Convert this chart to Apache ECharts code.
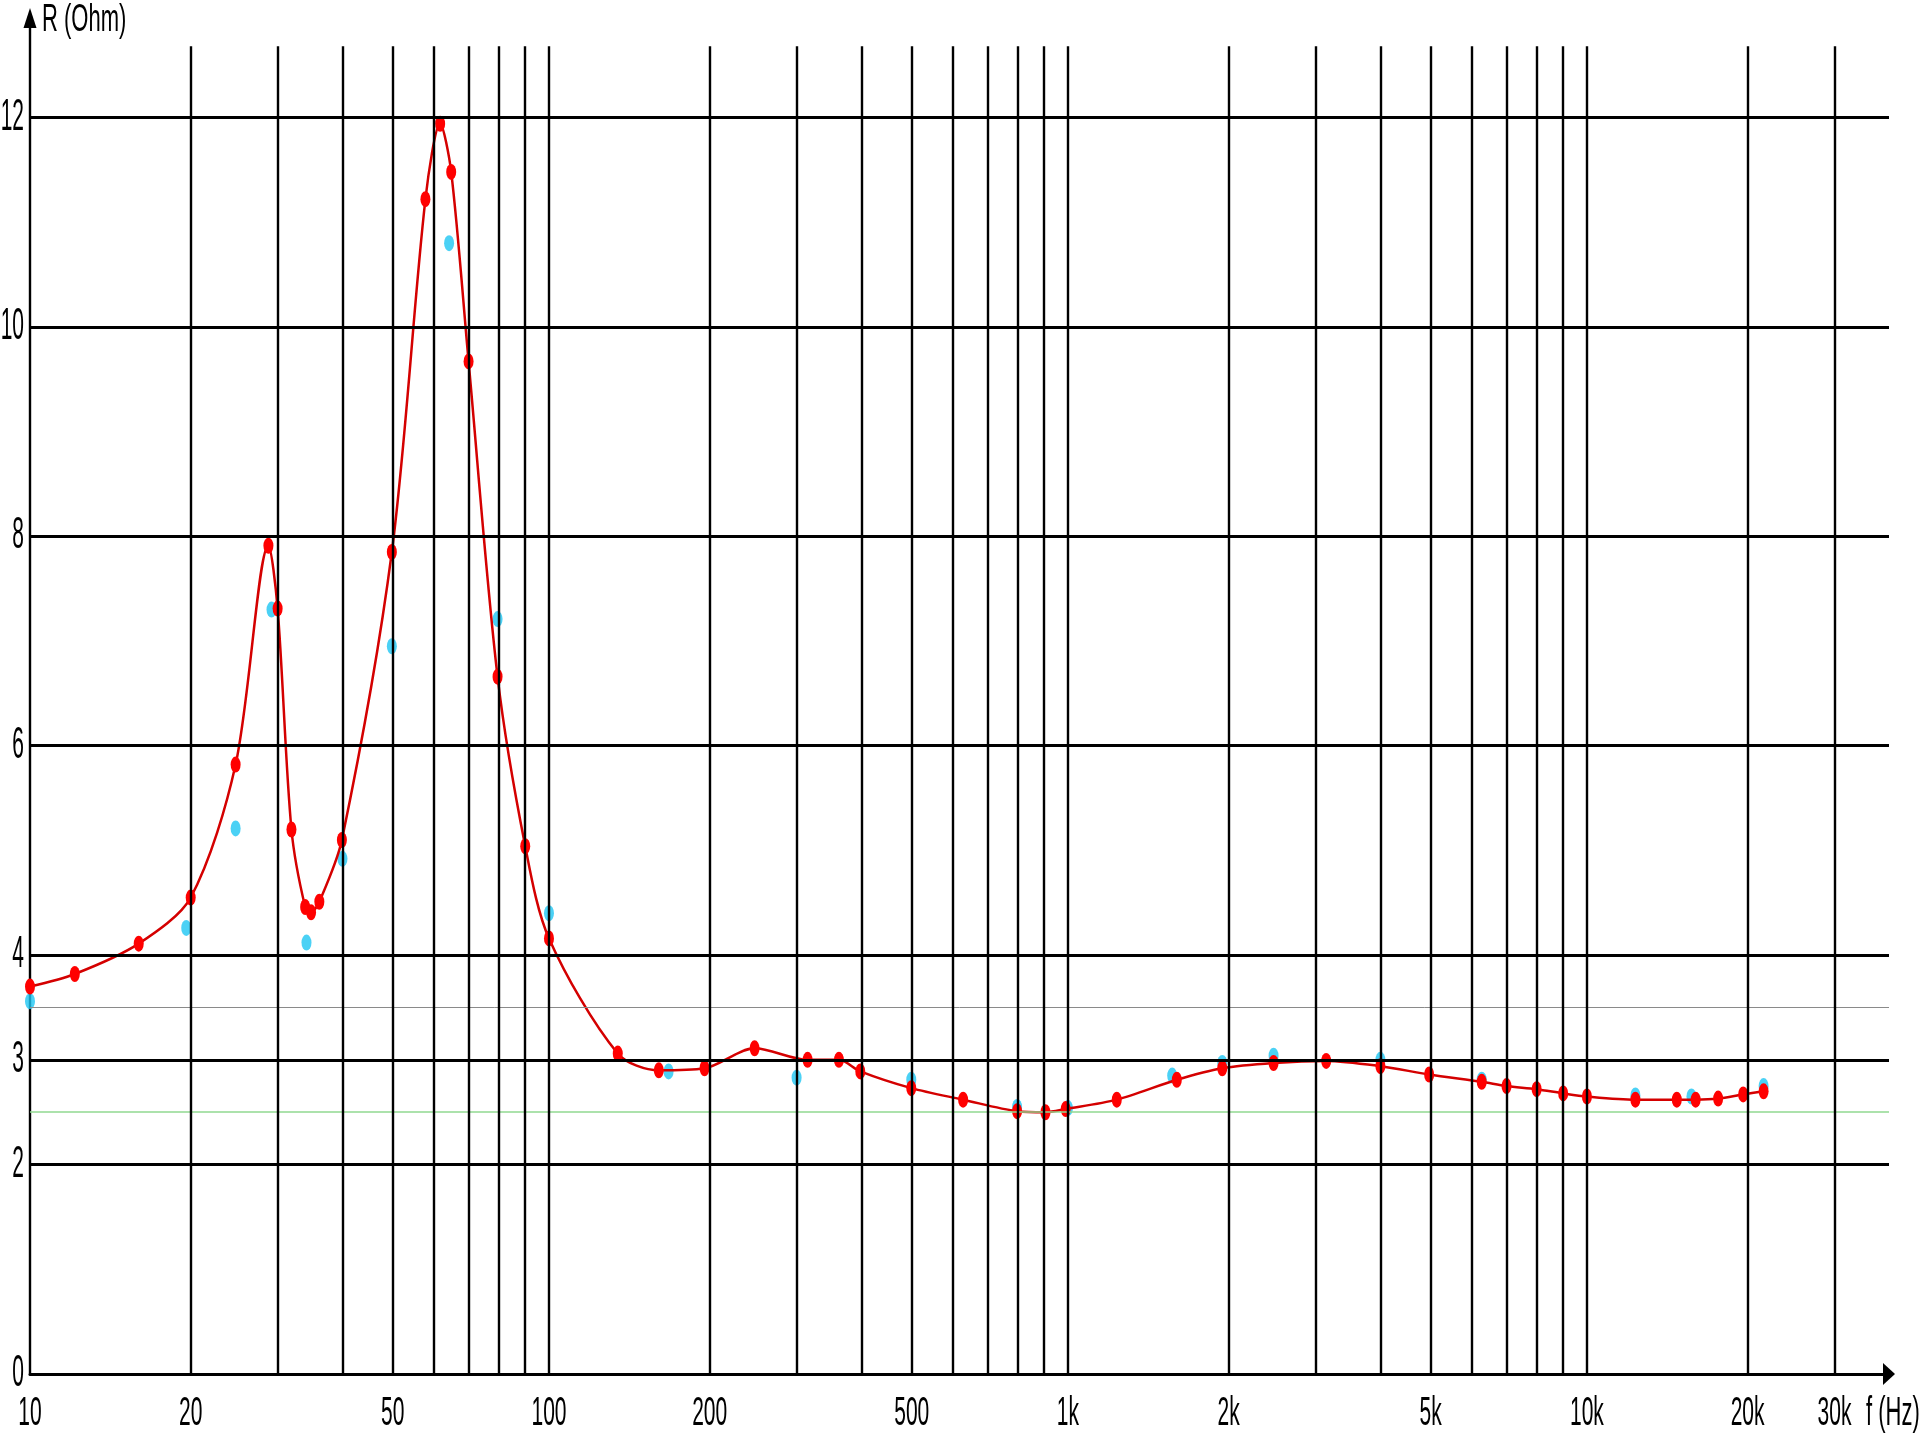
<!DOCTYPE html>
<html>
<head>
<meta charset="utf-8">
<script src="https://cdn.jsdelivr.net/npm/echarts@6/dist/echarts.min.js"></script>
<style>
html,body{margin:0;padding:0;background:#ffffff;}
#chart{width:1920px;height:1439px;}
</style>
</head>
<body>
<div id="chart"></div>
<script>
// ---- data ----
const redFreq = [10, 12.2, 16.2, 20.4, 24.9, 28.8, 30.0, 31.9, 33.9, 34.8, 36.1, 39.9, 49.8, 57.8, 61.7, 64.8, 70, 79.6, 90, 100,
                 135.7, 162.8, 199.4, 249, 315, 362, 398, 499, 628, 798, 905, 990, 1242, 1621, 1983, 2490, 3145, 4000, 4966,
                 6270, 7000, 8000, 9000, 10000, 12400, 14900, 16200, 17900, 20000, 21900];
const redR    = [3.70, 3.82, 4.11, 4.55, 5.82, 7.91, 7.31, 5.20, 4.46, 4.41, 4.51, 5.10, 7.85, 11.22, 11.94, 11.48, 9.67, 6.66, 5.04, 4.16,
                 3.06, 2.90, 2.92, 3.11, 3.00, 3.00, 2.89, 2.73, 2.62, 2.51, 2.50, 2.53, 2.62, 2.81, 2.92, 2.97, 2.99, 2.94, 2.86,
                 2.79, 2.75, 2.72, 2.68, 2.65, 2.62, 2.62, 2.62, 2.63, 2.67, 2.70];
const cyanFreq = [10, 20.0, 24.9, 29.2, 34.1, 40, 49.8, 64.2, 79.6, 100, 170, 300, 499, 798, 1000, 1588, 1983, 2490, 4000, 6270, 12400, 15900, 21900];
const cyanR    = [3.56, 4.26, 5.21, 7.30, 4.12, 4.92, 6.95, 10.80, 7.21, 4.40, 2.89, 2.83, 2.81, 2.55, 2.54, 2.85, 2.97, 3.04, 3.00, 2.81, 2.66, 2.65, 2.75];

const xGridFreq = [20.4, 30, 40, 50, 60, 70, 80, 90, 100, 204, 300, 400, 500, 600, 700, 800, 900, 1000,
                   2040, 3000, 4000, 5000, 6000, 7000, 8000, 9000, 10000, 20400, 30000];
const xTickVals  = [10, 20.4, 50, 100, 204, 500, 1000, 2040, 5000, 10000, 20400, 30000];
const xTickText  = ['10', '20', '50', '100', '200', '500', '1k', '2k', '5k', '10k', '20k', '30k'];
const yTickVals  = [0, 2, 3, 4, 6, 8, 10, 12];
const yMajorLines = [2, 3, 4, 6, 8, 10, 12];
const yGrayLines  = [3.5];
const yGreenLines = [2.5];
const vLineTop = 12.68;

const FONT = '"Liberation Sans", Arial, Helvetica, sans-serif';

const chart = echarts.init(document.getElementById('chart'));

const hLines = []
  .concat(yMajorLines.map(v => ({ yAxis: v, lineStyle: { color: '#000000', width: 3, type: 'solid' } })))
  .concat(yGrayLines.map(v => ({ yAxis: v, lineStyle: { color: '#8a8a8a', width: 1, type: 'solid' } })))
  .concat(yGreenLines.map(v => ({ yAxis: v, lineStyle: { color: '#90d890', width: 1.5, type: 'solid' } })));
const vLines = xGridFreq.map(f => [
  { coord: [f, 0], lineStyle: { color: '#000000', width: 2.4, type: 'solid' } },
  { coord: [f, vLineTop] }
]);

const option = {
  animation: false,
  backgroundColor: '#ffffff',
  grid: { left: 30, right: 31, top: 18, bottom: 65 },
  xAxis: {
    type: 'log', logBase: 10, min: 10, max: 38200,
    axisLine: { show: true, lineStyle: { color: '#000000', width: 3 }, symbol: ['none', 'triangle'], symbolSize: [22, 12] },
    axisTick: { show: false }, axisLabel: { show: false },
    splitLine: { show: false }, minorTick: { show: false }, minorSplitLine: { show: false }
  },
  yAxis: {
    type: 'value', min: 0, max: 12.95,
    axisLine: { show: true, lineStyle: { color: '#000000', width: 2.4 }, symbol: ['none', 'triangle'], symbolSize: [13, 20] },
    axisTick: { show: false }, axisLabel: { show: false }, splitLine: { show: false }
  },
  graphic: [
    { type: 'text', x: 42, y: 20, scaleY: 1.75, silent: true,
      style: { text: 'R (Ohm)', font: '22px ' + FONT, fill: '#000000', align: 'left', verticalAlign: 'middle' } },
    { type: 'text', x: 1866, y: 1414, scaleY: 1.85, silent: true,
      style: { text: 'f (Hz)', font: '22px ' + FONT, fill: '#000000', align: 'left', verticalAlign: 'middle' } }
  ],
  series: [
    {
      type: 'line', name: 'grid', z: 1, silent: true,
      data: [[10, 0]], symbol: 'none', lineStyle: { opacity: 0 },
      markLine: {
        silent: true, animation: false, symbol: ['none', 'none'],
        label: { show: false }, emphasis: { disabled: true },
        data: hLines.concat(vLines)
      }
    },
    {
      type: 'scatter', name: 'cyan', z: 3,
      data: cyanFreq.map((f, i) => [f, cyanR[i]]),
      symbol: 'circle', symbolSize: [10, 16],
      itemStyle: { color: '#1ec6f2' }
    },
    {
      type: 'line', name: 'red', z: 4,
      data: redFreq.map((f, i) => [f, redR[i]]),
      smooth: 0.3, showSymbol: true, showAllSymbol: true,
      symbol: 'circle', symbolSize: [10, 16],
      itemStyle: { color: '#ff0000' },
      lineStyle: { color: '#d40000', width: 2.5 }
    },
    {
      type: 'custom', name: 'xlabels', z: 5, silent: true, clip: false,
      data: xTickVals.map(v => [v, 0]),
      renderItem: function (params, api) {
        const p = api.coord([api.value(0), 0]);
        return {
          type: 'text', x: p[0], y: p[1] + 40, scaleY: 1.9,
          style: { text: xTickText[params.dataIndex], font: '21px ' + FONT, fill: '#000000',
                   align: 'center', verticalAlign: 'middle', textAlign: 'center', textVerticalAlign: 'middle' }
        };
      }
    },
    {
      type: 'custom', name: 'ylabels', z: 5, silent: true, clip: false,
      data: yTickVals.map(v => [10, v]),
      renderItem: function (params, api) {
        const p = api.coord([10, api.value(1)]);
        return {
          type: 'text', x: p[0] - 6, y: p[1], scaleY: 2.1,
          style: { text: String(yTickVals[params.dataIndex]), font: '21px ' + FONT, fill: '#000000',
                   align: 'right', verticalAlign: 'middle', textAlign: 'right', textVerticalAlign: 'middle' }
        };
      }
    }
  ]
};
chart.setOption(option);
</script>
</body>
</html>
